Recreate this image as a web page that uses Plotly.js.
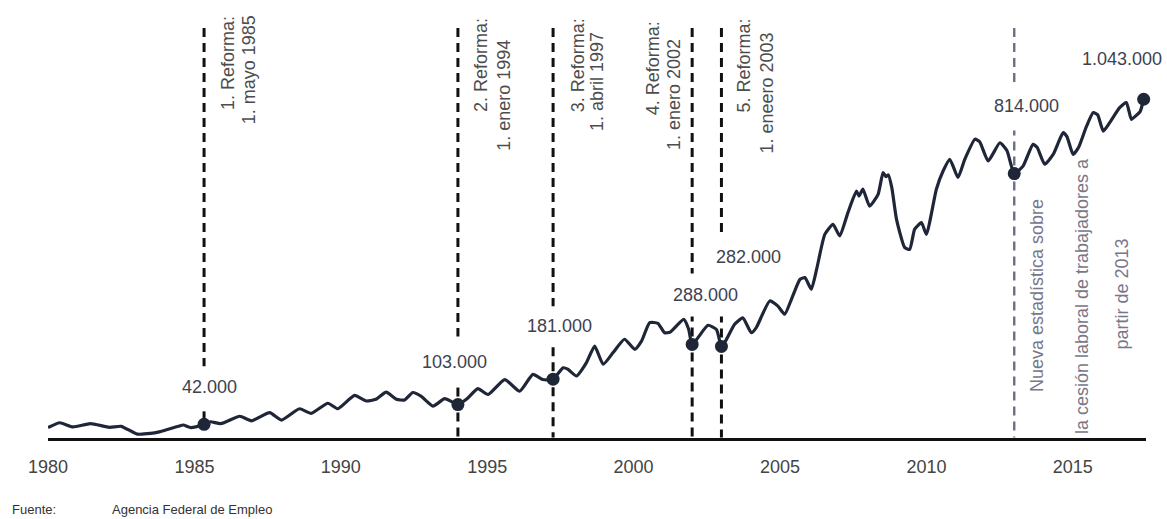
<!DOCTYPE html>
<html>
<head>
<meta charset="utf-8">
<script src="https://cdn.plot.ly/plotly-3.0.1.min.js"></script>
<style>
  html, body { margin: 0; padding: 0; background: #ffffff; }
  #chart { width: 1167px; height: 519px; }
</style>
</head>
<body>
<div id="chart"></div>
<script>
// Trabajadores cedidos (miles), serie a lo largo del tiempo (año decimal)
const anios = [
  1980.00, 1980.40, 1980.85, 1981.45, 1982.10, 1982.50, 1983.05, 1983.50, 1983.80, 1984.45,
  1984.62, 1984.88, 1985.33, 1985.55, 1985.90, 1986.55, 1986.95, 1987.57, 1987.97, 1988.59,
  1988.99, 1989.56, 1989.90, 1990.47, 1990.87, 1991.20, 1991.55, 1991.90, 1992.18, 1992.46,
  1992.75, 1993.15, 1993.55, 1994.00, 1994.30, 1994.68, 1995.03, 1995.60, 1996.11, 1996.56,
  1996.90, 1997.25, 1997.59, 1997.75, 1998.05, 1998.39, 1998.67, 1998.96, 1999.30, 1999.69,
  2000.04, 2000.27, 2000.55, 2000.83, 2001.06, 2001.25, 2001.71, 2001.88, 2002.00, 2002.54,
  2002.83, 2003.00, 2003.15, 2003.45, 2003.73, 2004.02, 2004.19, 2004.65, 2004.93, 2005.16,
  2005.39, 2005.68, 2005.85, 2006.07, 2006.25, 2006.53, 2006.81, 2007.04, 2007.32, 2007.61,
  2007.70, 2007.83, 2008.06, 2008.35, 2008.52, 2008.62, 2008.70, 2008.82, 2008.98, 2009.26,
  2009.43, 2009.60, 2009.83, 2010.00, 2010.34, 2010.57, 2010.80, 2011.08, 2011.31, 2011.66,
  2011.82, 2012.11, 2012.51, 2012.75, 2013.00, 2013.30, 2013.64, 2013.78, 2014.04, 2014.33,
  2014.67, 2014.80, 2015.01, 2015.20, 2015.47, 2015.70, 2015.85, 2016.04, 2016.26, 2016.60,
  2016.83, 2017.00, 2017.14, 2017.30, 2017.42
];
const miles = [
   32,  47,  34,  44,  33,  36,  12,  14,  19,  36,
   40,  32,  42,  50,  44,  67,  53,  78,  55,  90,
   76, 107,  90, 131, 114, 119, 141, 119, 117, 140,
  128,  98, 121, 103, 120, 152, 134, 180, 144, 196,
  180, 181, 216, 212, 191, 232, 283, 227, 263, 304,
  273, 298, 355, 353, 324, 326, 365, 335, 288, 347,
  334, 282, 300, 350, 370, 324, 340, 422, 406, 381,
  427, 488, 494, 458, 519, 627, 658, 622, 694, 760,
  745, 766, 714, 750, 817, 805, 810, 770, 673, 586,
  581, 643, 663, 627, 766, 822, 858, 802, 858, 920,
  912, 853, 909, 885, 814, 837, 904, 895, 843, 873,
  940, 928, 873, 895, 960,1002, 995, 945, 971,1017,
 1033, 981, 991,1005,1043
];

// Hitos marcados sobre la serie
const hitosAnio  = [1985.33, 1994.00, 1997.25, 2002.00, 2003.00, 2013.00, 2017.42];
const hitosMiles = [42, 103, 181, 288, 282, 814, 1043];

// Reformas (líneas verticales) y sus rótulos
const reformasAnio = [1985.33, 1994.00, 1997.25, 2002.00, 2003.00];
const reformasTitulo = ["1. Reforma:", "2. Reforma:", "3. Reforma:", "4. Reforma:", "5. Reforma:"];
const reformasFecha  = ["1. mayo 1985", "1. enero 1994", "1. abril 1997", "1. enero 2002", "1. eneero 2003"];

const estadisticaAnio = 2013.00;
const estadisticaTexto = ["Nueva estadística sobre", "la cesión laboral de trabajadores a", "partir de 2013"];

const ticksAnio = [1980, 1985, 1990, 1995, 2000, 2005, 2010, 2015];
const fuenteRotulo = "Fuente:";
const fuenteTexto = "Agencia Federal de Empleo";

// ---- geometría ----
const W = 1167, H = 519;
const M = { l: 48, r: 21, t: 20, b: 81 };
const plotH = H - M.t - M.b;
const Y_MAX = 1287;
const pxPorMil = plotH / Y_MAX;
const topPaper = (plotH - 8) / plotH;      // extremo superior de las líneas
const FONT = "Liberation Sans, Arial, Helvetica, sans-serif";
const NAVY = "#1f2638";
const TEXTO = "#3d4250";
const GRIS = "#77778a";
const DASH = "9px,6px";

function fmt(miles) {
  const s = String(Math.round(miles * 1000));
  return s.replace(/\B(?=(\d{3})+(?!\d))/g, ".");
}
function yDesde(v, dpx) { return v + dpx / pxPorMil; }   // dpx>0 hacia arriba

// Huecos de cada línea vertical, en px respecto al punto marcado
// [finTramoSuperior, inicioTramoCorto, finTramoCorto, inicioTramoInferior(o null)]
const huecos = [
  [58, 13, 5, null],
  [68, 22, 8, -8],
  [73, 33, 8, -8],
  [71, 28, 8, -8],
  [114, 30, 9, -8],
  [87, 43, 8, -8]
];
// Desplazamientos de las cifras respecto al punto
const cifraDx = [5, -3, 6, 13, 27, 12, -22];
const cifraDy = [37, 43, 53, 49, 89, 68, 40];
// Rótulos girados: [dx título, y título(paper), dx fecha, y fecha(paper)]
const rotulosPos = [
  [24, 0.897, 45, 0.880],
  [23, 0.892, 46, 0.821],
  [25, 0.892, 44, 0.852],
  [-39, 0.885, -18, 0.821],
  [23, 0.892, 46, 0.825]
];
const estadisticaDx = [23, 68, 108];
const estadisticaY = [0.340, 0.340, 0.344];

const shapes = [];
const annotations = [];

function tramosVerticales(x, v, h, color, width) {
  const line = { color: color, width: width, dash: DASH };
  shapes.push({ type: "line", xref: "x", yref: "paper", x0: x, x1: x,
                y0: topPaper, y1: (yDesde(v, h[0])) / Y_MAX, line: line, layer: "below" });
  shapes.push({ type: "line", xref: "x", yref: "y", x0: x, x1: x,
                y0: yDesde(v, h[2]), y1: yDesde(v, h[1]), line: line, layer: "below" });
  if (h[3] !== null) {
    shapes.push({ type: "line", xref: "x", yref: "y", x0: x, x1: x,
                  y0: yDesde(v, h[3]), y1: 0.4 / pxPorMil, line: line, layer: "below" });
  }
}

reformasAnio.forEach((x, i) => {
  const v = hitosMiles[hitosAnio.indexOf(x)];
  tramosVerticales(x, v, huecos[i], "#111111", 3);
  const p = rotulosPos[i];
  annotations.push({ x: x, xref: "x", y: p[1], yref: "paper", xshift: p[0],
    text: reformasTitulo[i], textangle: -90, showarrow: false,
    xanchor: "center", yanchor: "middle", font: { family: FONT, size: 18, color: "#4d4d4d" } });
  annotations.push({ x: x, xref: "x", y: p[3], yref: "paper", xshift: p[2],
    text: reformasFecha[i], textangle: -90, showarrow: false,
    xanchor: "center", yanchor: "middle", font: { family: FONT, size: 18, color: "#4d4d4d" } });
});

tramosVerticales(estadisticaAnio, hitosMiles[hitosAnio.indexOf(estadisticaAnio)], huecos[5], "#6d6d88", 2.4);
estadisticaTexto.forEach((t, i) => {
  annotations.push({ x: estadisticaAnio, xref: "x", y: estadisticaY[i], yref: "paper",
    xshift: estadisticaDx[i], text: t, textangle: -90, showarrow: false,
    xanchor: "center", yanchor: "middle", font: { family: FONT, size: 18, color: GRIS } });
});

hitosAnio.forEach((x, i) => {
  annotations.push({ x: x, y: hitosMiles[i], xref: "x", yref: "y",
    xshift: cifraDx[i], yshift: cifraDy[i], text: fmt(hitosMiles[i]), showarrow: false,
    xanchor: "center", yanchor: "middle", font: { family: FONT, size: 18, color: TEXTO } });
});

annotations.push({ x: (10 - M.l) / (W - M.l - M.r), xref: "paper", y: -(509 - (H - M.b)) / plotH, yref: "paper",
  text: fuenteRotulo, showarrow: false, xanchor: "left", yanchor: "middle",
  font: { family: FONT, size: 13, color: "#333333" } });
annotations.push({ x: (110 - M.l) / (W - M.l - M.r), xref: "paper", y: -(509 - (H - M.b)) / plotH, yref: "paper",
  text: fuenteTexto, showarrow: false, xanchor: "left", yanchor: "middle",
  font: { family: FONT, size: 13, color: "#333333" } });

const traces = [
  { x: anios, y: miles, type: "scatter", mode: "lines",
    line: { color: NAVY, width: 3.2, shape: "spline", smoothing: 0.5 },
    hoverinfo: "skip", cliponaxis: false },
  { x: hitosAnio, y: hitosMiles, type: "scatter", mode: "markers",
    marker: { color: NAVY, size: 13 }, hoverinfo: "skip", cliponaxis: false }
];

const layout = {
  width: W, height: H,
  margin: M,
  paper_bgcolor: "#ffffff", plot_bgcolor: "#ffffff",
  showlegend: false,
  xaxis: {
    range: [1980, 2017.5], tickvals: ticksAnio, ticktext: ticksAnio.map(String),
    showgrid: false, zeroline: false, showline: true, linecolor: "#111111", linewidth: 2.5,
    ticks: "", ticklabelstandoff: 11,
    tickfont: { family: FONT, size: 18, color: "#444444" }
  },
  yaxis: { range: [0, Y_MAX], visible: false, showgrid: false, zeroline: false },
  shapes: shapes,
  annotations: annotations
};

Plotly.newPlot("chart", traces, layout, { staticPlot: true, displayModeBar: false });
</script>
</body>
</html>
